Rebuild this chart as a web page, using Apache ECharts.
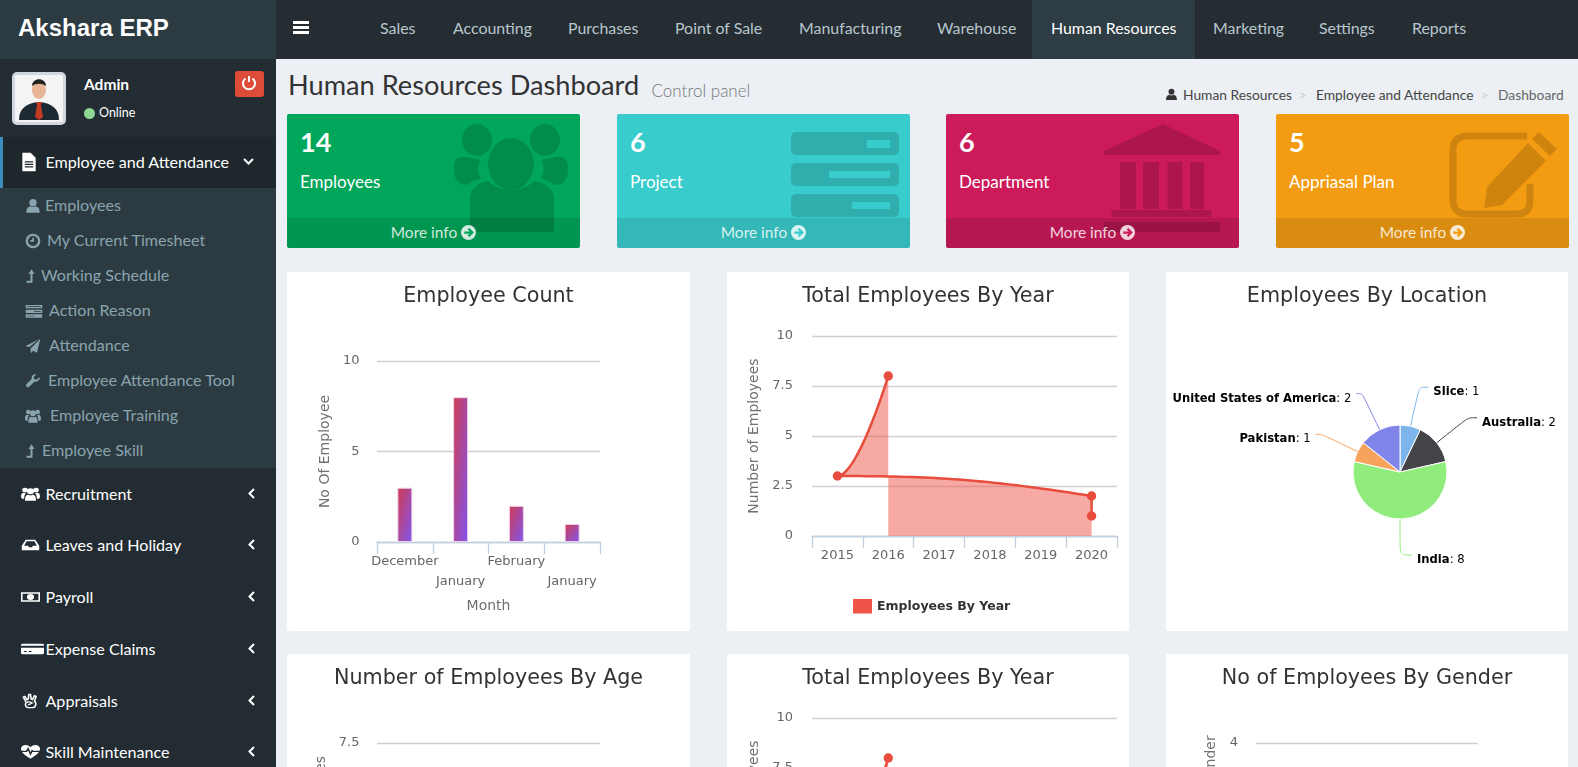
<!DOCTYPE html>
<html>
<head>
<meta charset="utf-8">
<title>Human Resources Dashboard</title>
<script src="https://cdn.jsdelivr.net/npm/echarts@6/dist/echarts.min.js"></script>
<style>
  html, body { margin: 0; padding: 0; width: 1578px; height: 767px; overflow: hidden; background: #ecf0f5; font-family: Lato, "Noto Sans", sans-serif; }
  .abs, .abs * { box-sizing: border-box; }
  .abs { position: absolute; white-space: nowrap; }
  .vc { transform: translateY(-50%); line-height: 1; }
  #side { position: absolute; left: 0; top: 0; width: 276px; height: 767px; background: #222c32; }
  #top { position: absolute; left: 276px; top: 0; right: 0; height: 59px; background: #252d33; }
  .panel { position: absolute; background: #fff; border-radius: 2px; width: 403px; height: 359px; }
  .panel .chart { width: 100%; height: 100%; }
  .card { position: absolute; top: 114px; height: 134px; width: 293px; border-radius: 2px; color: #fff; overflow: hidden; }
  .card .foot { position: absolute; left: 0; right: 0; bottom: 0; height: 30px; background: rgba(0,0,0,.1); color: rgba(255,255,255,.82); text-align: center; font-size: 15.5px; line-height: 28px; }
  .card .num { position: absolute; left: 13px; top: 13px; font-size: 27px; font-weight: 700; line-height: 30px; }
  .card .lab { position: absolute; left: 13px; top: 58px; font-size: 17px; line-height: 20px; }
  .card svg.big { position: absolute; }
</style>
</head>
<body>
<div id="side"></div>
<div id="top"></div>
<div id="content"></div>
<div id="cards"></div>
<div class="panel" style="left:287px;top:272px"><div class="chart" id="chartCount"></div></div>
<div class="panel" style="left:727px;top:272px;width:402px"><div class="chart" id="chartYear"></div></div>
<div class="panel" style="left:1166px;top:272px;width:402px"><div class="chart" id="chartLocation"></div></div>
<div class="panel" style="left:287px;top:654px"><div class="chart" id="chartAge"></div></div>
<div class="panel" style="left:727px;top:654px;width:402px"><div class="chart" id="chartYear2"></div></div>
<div class="panel" style="left:1166px;top:654px;width:402px"><div class="chart" id="chartGender"></div></div>

<script>
// chart values
const countMonths = ["December", "January", "February", "January"];
const countValues = [3, 8, 2, 1];
const yearLabels = ["2015", "2016", "2017", "2018", "2019", "2020"];
const yearPointX = ["2016", "2015", "2020", "2020"];
const yearPointY = [8, 3, 2, 1];
const locationNames = ["Slice", "Australia", "India", "Pakistan", "United States of America"];
const locationValues = [1, 2, 8, 1, 2];
const locationColors = ["#7cb5ec", "#434348", "#90ed7d", "#f7a35c", "#8085e9"];
const locationLineLengths = [40, 40, 36, 40, 40];
const locationLineTails = [9, 9, 12, 6, 6];

// page text
const navLabels = ["Sales", "Accounting", "Purchases", "Point of Sale", "Manufacturing", "Warehouse", "Human Resources", "Marketing", "Settings", "Reports"];
const navLefts = [380, 453, 568, 675, 799, 937, 1051, 1213, 1319, 1412];
const subLabels = ["Employees", "My Current Timesheet", "Working Schedule", "Action Reason", "Attendance", "Employee Attendance Tool", "Employee Training", "Employee Skill"];
const subIcons = ["user", "clock", "up", "list", "plane", "wrench", "group", "up"];
const subLefts = [45, 47, 41, 49, 49, 48, 50, 42];
const mainLabels = ["Recruitment", "Leaves and Holiday", "Payroll", "Expense Claims", "Appraisals", "Skill Maintenance"];
const mainIcons = ["group", "inbox", "money", "card", "hand", "heart"];
const mainTops = [494, 545, 597, 649, 701, 752];

const icons = {
  user: '<circle cx="12" cy="7" r="5.5"/><path d="M2 22c0-7 3-9 6-9.500 2.500 1.500 5.500 1.500 8 0 3 .5 6 2.500 6 9.500z"/>',
  clock: '<path fill-rule="evenodd" d="M12 1a11 11 0 1 0 0 22a11 11 0 0 0 0-22zm0 3.500a7.500 7.500 0 1 1 0 15a7.500 7.500 0 0 1 0-15zM11 7h2.500v6H8v-2.400h3z"/>',
  up: '<path d="M13 2l6 7h-4v13H3v-3h8V9H7z"/>',
  list: '<path d="M1 3h22v5H1zM1 10h22v5H1zM1 17h22v5H1z"/><path fill="#2c3b41" d="M3 5h18v1H3zM12 12h9v1h-9zM3 19h9v1H3z"/>',
  plane: '<path d="M23 1L18 22l-6-3-3 4-1-7L23 1zM1 12l20-10L6 14z"/>',
  wrench: '<path d="M22 6l-5 4-3-1-1-3 4-4c-4-1-8 2-7 7L2 17c-2 2 2 6 4 4l8-8c5 1 9-3 8-7z"/>',
  group: '<circle cx="5" cy="6" r="3.500"/><circle cx="19" cy="6" r="3.500"/><circle cx="12" cy="8" r="4.500"/><path d="M0 16c0-4 1-6 4-6l2 1c-1 2-2 3-2 8H1zM24 16c0-4-1-6-4-6l-2 1c1 2 2 3 2 8h3zM5 22c0-7 2-9 4-9 2 1 4 1 6 0 2 0 4 2 4 9z"/>',
  inbox: '<path fill-rule="evenodd" d="M6 4h12l5 9v7H1v-7zm1 2.500L4 13h5l1 2.500h4l1-2.500h5l-3-6.500z"/>',
  money: '<path fill-rule="evenodd" d="M0 5h24v14H0zM2 7v10h20V7zM12 7.500a4.500 4.500 0 1 0 0 9a4.500 4.500 0 0 0 0-9z"/>',
  card: '<path fill-rule="evenodd" d="M2 4h20a2 2 0 0 1 2 2v1H0V6a2 2 0 0 1 2-2zM0 10h24v8a2 2 0 0 1-2 2H2a2 2 0 0 1-2-2zM3 15v1.500h3V15zM8 15v1.500h3V15z"/>',
  hand: '<path fill="none" stroke="currentColor" stroke-width="2" d="M6 13L3 6l2-1 3 6M9 10L10 2h2l1 8M14 11l3-7 2 1-2 8c3 0 2 9-2 9H9c-3 0-4-4-3-7 2-2 5-2 8 0l-5 3"/>',
  heart: '<path d="M12 22C4 16 0 12 0 7c0-6 8-8 12-2 4-6 12-4 12 2 0 5-4 9-12 15z"/><path fill="none" stroke="#222c32" stroke-width="2" d="M0 11h7l2-4 3 8 2-5 1 1h9"/>',
  doc: '<path fill-rule="evenodd" d="M4 1h10l6 6v16H4zM7 11v1.500h10V11zM7 14v1.500h10V14zM7 17v1.500h10V17z"/>'
};

function svgIcon(name, x, y, w, h, color) {
  return `<svg class="abs" style="left:${x}px;top:${y}px;color:${color}" width="${w}" height="${h}" viewBox="0 0 24 24" preserveAspectRatio="none" fill="${color}">${icons[name]}</svg>`;
}
function textAt(s, x, y, style) {
  return `<div class="abs vc" style="left:${x}px;top:${y}px;${style}">${s}</div>`;
}
function chevron(x, y, down) {
  const d = down ? "M1 1l4.500 4.500L10 1" : "M6 1L1.500 5.500 6 10";
  const size = down ? "width:11px;height:7px" : "width:8px;height:11px";
  return `<svg class="abs" style="left:${x}px;top:${y}px;${size}" fill="none" stroke="#fff" stroke-width="2">
    <path d="${d}"/></svg>`;
}

// sidebar
let sideHtml = `<div class="abs" style="left:0;top:0;width:276px;height:59px;background:#2c3a42"></div>`;
sideHtml += textAt("Akshara ERP", 18, 28, "font:700 24px 'Liberation Sans';color:#fff");
sideHtml += `<div class="abs" style="left:12px;top:72px;width:54px;height:53px;border:3px solid #d2d6de;border-radius:5px;background:#fff;overflow:hidden">
<svg width="48" height="47" viewBox="0 0 48 47"><rect width="48" height="47" fill="#f4f4f4"/><ellipse cx="24" cy="15" rx="7" ry="9" fill="#e8b596"/><path d="M17 11c0-9 14-9 14 0-4-3-10-3-14 0z" fill="#222"/><path d="M4 45c0-12 8-17 20-18 12 1 20 6 20 18z" fill="#1e2a33"/><path d="M21 27h6l-1 3 2 12-4 3-4-3 2-12z" fill="#c23b22"/></svg></div>`;
sideHtml += textAt("Admin", 84, 85, "font-weight:700;font-size:15.500px;color:#fff");
sideHtml += `<div class="abs" style="left:84px;top:107.500px;width:11px;height:11px;border-radius:50%;background:#8fd694"></div>`;
sideHtml += textAt("Online", 99, 113, "font-size:12.500px;color:#fff");
sideHtml += `<div class="abs" style="left:235px;top:71px;width:29px;height:26px;border-radius:3px;background:#dd4b39"></div>
<svg class="abs" style="left:241px;top:75px" width="16" height="16" fill="none" stroke="#fff" stroke-width="2"><path d="M4.500 3.500a6 6 0 1 0 7 0M8 1v6"/></svg>`;
sideHtml += `<div class="abs" style="left:0;top:137px;width:276px;height:51px;background:#1e282c;border-left:3px solid #3c8dbc"></div>`;
sideHtml += `<div class="abs" style="left:0;top:188px;width:276px;height:280px;background:#2c3b41"></div>`;
sideHtml += svgIcon("doc", 19, 152, 20, 20, "#fff");
sideHtml += textAt("Employee and Attendance", 45.5, 162, "font-size:16.100px;color:#fff");
sideHtml += chevron(243, 158, true);
subLabels.forEach((label, i) => {
  const y = 204.5 + i * 35;
  sideHtml += svgIcon(subIcons[i], 25, y - 7, subIcons[i] === "up" ? 12 : (subIcons[i] === "list" ? 18 : 16), 16, "#8aa4af");
  sideHtml += textAt(label, subLefts[i], y, "font-size:16.100px;color:#8aa4af");
});
mainLabels.forEach((label, i) => {
  const y = mainTops[i];
  sideHtml += svgIcon(mainIcons[i], 21, y - 8, mainIcons[i] === "card" ? 23 : 19, 16, "#fff");
  sideHtml += textAt(label, 45.5, y, "font-size:16.100px;color:#fff");
  sideHtml += chevron(248, y - 6, false);
});
document.getElementById("side").innerHTML = sideHtml;

// top bar
let topHtml = `<div class="abs" style="left:1032px;top:0;width:163px;height:59px;background:#2e3c43"></div>`;
topHtml += `<div class="abs" style="left:293px;top:21px;width:16px;height:3px;background:#fff"></div>
<div class="abs" style="left:293px;top:26px;width:16px;height:3px;background:#fff"></div>
<div class="abs" style="left:293px;top:31px;width:16px;height:3px;background:#fff"></div>`;
navLabels.forEach((label, i) => {
  topHtml += textAt(label, navLefts[i], 28, `font-size:15.900px;color:${label === "Human Resources" ? "#fff" : "#b8c7ce"}`);
});
document.getElementById("content").innerHTML = topHtml + [
  textAt("Human Resources Dashboard", 288, 85, "font-size:27.200px;color:#333"),
  textAt("Control panel", 651.5, 90, "font-size:17px;font-weight:300;color:#777"),
  svgIcon("user", 1165, 88, 13, 13, "#333"),
  textAt("Human Resources", 1183, 95, "font-size:13.800px;color:#444"),
  textAt("&gt;", 1299, 95, "font-size:13px;color:#ccc"),
  textAt("Employee and Attendance", 1316, 95, "font-size:13.800px;color:#444"),
  textAt("&gt;", 1481, 95, "font-size:13px;color:#ccc"),
  textAt("Dashboard", 1498, 95, "font-size:13.800px;color:#666")
].join("");

// info boxes
const cardNums = [14, 6, 6, 5];
const cardLabels = ["Employees", "Project", "Department", "Appriasal Plan"];
const cardColors = ["#00a65a", "#39cccc", "#cc1a5a", "#f39c12"];
const cardLefts = [287, 617, 946, 1276];
const cardIcons = [
  `<svg class="big" style="left:167px;top:9px" width="114" height="109" fill-opacity=".15">
    <ellipse cx="23" cy="17" rx="15" ry="16"/><ellipse cx="91" cy="17" rx="15" ry="16"/><ellipse cx="57" cy="41" rx="23" ry="26"/>
    <path d="M16 109V75c0-10 10-16 18-17 12 12 34 12 46 0 8 1 20 7 20 17v34z"/>
    <path d="M10 34c6 0 12 2 17 3-4 5-3 13 0 19-6 1-10 3-14 6C4 62 0 56 0 46s3-12 10-12zM104 34c-6 0-12 2-17 3 4 5 3 13 0 19 6 1 10 3 14 6 9 0 13-6 13-16s-3-12-10-12z"/></svg>`,
  `<svg class="big" style="left:174px;top:18px" width="108" height="86">
    <g fill="#000" fill-opacity=".15"><rect width="108" height="23" rx="5"/><rect y="31" width="108" height="23" rx="5"/><rect y="62" width="108" height="23" rx="5"/></g>
    <g fill="#39cccc"><rect x="76" y="8" width="23" height="8"/><rect x="38" y="39" width="61" height="7"/><rect x="61" y="70" width="38" height="7"/></g></svg>`,
  `<svg class="big" style="left:158px;top:10px" width="116" height="108" fill-opacity=".15">
    <path d="M59 0l57 27v4H0v-4z"/><path d="M16 38h16v47H16zM39 38h16v47H39zM63.500 38h15v47h-15zM86 38h14v47H86zM7.500 86h100v7h-100zM0 98h116v10H0z"/></svg>`,
  `<svg class="big" style="left:173px;top:18px" width="108" height="86">
    <path fill="none" stroke="#000" stroke-opacity=".15" stroke-width="7" d="M78 4H18C9 4 4 9 4 18v50c0 9 5 14 14 14h50c9 0 13-5 13-14V52"/>
    <path fill-opacity=".15" d="M90 0l18 17-7 7-18-17zM79 11l18 18-44 44-18 3 3-21z"/></svg>`
];
function moreArrow(color) {
  return `<svg width="15" height="15" viewBox="0 0 16 16" style="vertical-align:-2px"><circle cx="8" cy="8" r="8" fill="currentColor"/><path d="M3.500 8h8M8 4l4 4-4 4" fill="none" stroke-width="2.400" stroke="${color}"/></svg>`;
}
document.getElementById("cards").innerHTML = cardNums.map((n, i) =>
  `<div class="card" style="left:${cardLefts[i]}px;background:${cardColors[i]}">${cardIcons[i]}
    <div class="num">${n}</div><div class="lab">${cardLabels[i]}</div>
    <div class="foot">More info ${moreArrow(cardColors[i])}</div></div>`).join("");

// charts
const chartFont = "DejaVu Sans";
const axisBlue = "#c0d0e0";

function chartTitle(text) {
  return { text, left: "center", top: 9, textStyle: { fontFamily: chartFont, fontSize: 20.7, fontWeight: "normal", color: "#333" } };
}
function valueAxis(name, max, interval, nameGap, margin) {
  return {
    type: "value", min: 0, max, interval, name, nameLocation: "middle", nameGap,
    nameTextStyle: { fontFamily: chartFont, fontSize: 14, color: "#707070" },
    axisLine: { show: false }, axisTick: { show: false },
    axisLabel: { fontFamily: chartFont, fontSize: 13, color: "#666", margin },
    splitLine: { lineStyle: { color: "#d0d0d0", width: 1.3 } }
  };
}
function categoryAxis(data, extra) {
  return Object.assign({
    type: "category", data,
    axisLine: { show: true, lineStyle: { color: axisBlue, width: 1.3 } },
    axisTick: { show: true, interval: 0, length: 12, lineStyle: { color: axisBlue, width: 1.3 } },
    axisLabel: { fontFamily: chartFont, fontSize: 13, color: "#666", interval: 0 }
  }, extra);
}

// same corner to corner blend as a bounding box gradient, whatever the bar's proportions
function barGradient(value) {
  const ratio = 15 / (value / 10 * 181);
  return {
    type: "linear", x: 0, y: 0, x2: 2 / (1 + ratio * ratio), y2: 2 / (1 + 1 / (ratio * ratio)),
    colorStops: [{ offset: 0, color: "#d03c50" }, { offset: 1, color: "#8055f0" }]
  };
}

// the year series is not sorted on x, so its spline is built here from the axis scales
function splinePath(pts) {
  const smoothing = 1.5, denom = 2.5;
  const right = [];
  const out = [pts[0]];
  pts.forEach((p, i) => {
    if (i === 0) return;
    const last = pts[i - 1], next = pts[i + 1];
    let leftX = p[0], leftY = p[1];
    if (next) {
      leftX = (smoothing * p[0] + last[0]) / denom;
      leftY = (smoothing * p[1] + last[1]) / denom;
      const rightX = (smoothing * p[0] + next[0]) / denom;
      let rightY = (smoothing * p[1] + next[1]) / denom;
      if (rightX !== leftX) {
        const correction = ((rightY - leftY) * (rightX - p[0])) / (rightX - leftX) + p[1] - rightY;
        leftY += correction;
        rightY += correction;
      }
      if (leftY > last[1] && leftY > p[1]) { leftY = Math.max(last[1], p[1]); rightY = 2 * p[1] - leftY; }
      else if (leftY < last[1] && leftY < p[1]) { leftY = Math.min(last[1], p[1]); rightY = 2 * p[1] - leftY; }
      if (rightY > next[1] && rightY > p[1]) { rightY = Math.max(next[1], p[1]); leftY = 2 * p[1] - rightY; }
      else if (rightY < next[1] && rightY < p[1]) { rightY = Math.min(next[1], p[1]); leftY = 2 * p[1] - rightY; }
      right[i] = [rightX, rightY];
    }
    const c1 = right[i - 1] || last;
    for (let s = 1; s <= 40; s++) {
      const t = s / 40, u = 1 - t;
      out.push([
        u * u * u * last[0] + 3 * u * u * t * c1[0] + 3 * u * t * t * leftX + t * t * t * p[0],
        u * u * u * last[1] + 3 * u * u * t * c1[1] + 3 * u * t * t * leftY + t * t * t * p[1]
      ]);
    }
  });
  return out;
}

function renderYearSeries(params, api) {
  if (params.dataIndex !== 0) return null;
  const pts = yearPointX.map((x, i) => api.coord([yearLabels.indexOf(x), yearPointY[i]]));
  const curve = splinePath(pts);
  const floor = yearPointX.map((x) => api.coord([yearLabels.indexOf(x), 0]));
  const area = curve.concat([floor[floor.length - 1], floor[0]]);
  return {
    type: "group",
    children: [
      { type: "polygon", shape: { points: area }, style: { fill: "#ee5548", opacity: 0.5 } },
      { type: "polyline", shape: { points: curve }, style: { fill: null, stroke: "#e74c3c", lineWidth: 2.5 } }
    ].concat(pts.map((p) => ({
      type: "circle", shape: { cx: p[0], cy: p[1], r: 4.7 }, style: { fill: "#e74c3c" }
    })))
  };
}

function yearOption() {
  return {
    animation: false,
    title: chartTitle("Total Employees By Year"),
    legend: {
      left: 121, top: 322, icon: "rect", itemWidth: 19, itemHeight: 14.5,
      data: ["Employees By Year"],
      textStyle: { fontFamily: chartFont, fontSize: 12.5, fontWeight: "bold", color: "#333" }
    },
    grid: { left: 85, top: 64, width: 305, height: 200 },
    xAxis: categoryAxis(yearLabels, { axisLabel: { fontFamily: chartFont, fontSize: 13, color: "#666", interval: 0, margin: 13 } }),
    yAxis: valueAxis("Number of Employees", 10, 2.5, 48, 19),
    series: [{
      name: "Employees By Year", type: "custom", renderItem: renderYearSeries,
      itemStyle: { color: "#ee5548" },
      encode: { x: 0, y: 1 },
      data: yearPointX.map((x, i) => [yearLabels.indexOf(x), yearPointY[i]])
    }]
  };
}

echarts.init(document.getElementById("chartCount")).setOption({
  animation: false,
  title: chartTitle("Employee Count"),
  grid: { left: 90, top: 89, width: 223, height: 181 },
  xAxis: categoryAxis(countMonths, {
    name: "Month", nameLocation: "middle", nameGap: 57,
    nameTextStyle: { fontFamily: chartFont, fontSize: 14, color: "#707070" },
    axisLabel: {
      fontFamily: chartFont, fontSize: 13, color: "#666", interval: 0, margin: 10, lineHeight: 20,
      formatter: (v, i) => (i % 2 ? "\n" + v : v)
    }
  }),
  yAxis: valueAxis("No Of Employee", 10, 5, 45, 17.5),
  series: [{
    type: "bar", barWidth: 15,
    data: countValues.map((value) => ({ value, itemStyle: { color: barGradient(value) } })),
    itemStyle: { borderColor: "#f0d4ea", borderWidth: 1 }
  }]
});

echarts.init(document.getElementById("chartYear")).setOption(yearOption());
echarts.init(document.getElementById("chartYear2")).setOption(yearOption());

echarts.init(document.getElementById("chartLocation")).setOption({
  animation: false,
  title: chartTitle("Employees By Location"),
  color: locationColors,
  series: [{
    type: "pie", center: [234, 200], radius: 47, startAngle: 90, clockwise: true,
    avoidLabelOverlap: false, minShowLabelAngle: 0,
    data: locationNames.map((name, i) => ({
      name, value: locationValues[i],
      labelLine: { length: locationLineLengths[i], length2: locationLineTails[i] }
    })),
    itemStyle: { borderColor: "#fff", borderWidth: 1 },
    label: {
      position: "outside",
      padding: [10, 0, 0, 0],
      formatter: "{n|{b}}{v|: {c}}",
      rich: {
        n: { fontFamily: chartFont, fontSize: 11.6, fontWeight: "bold", color: "#000" },
        v: { fontFamily: chartFont, fontSize: 11.6, color: "#000" }
      }
    },
    labelLine: { smooth: 0.3, lineStyle: { width: 1 } }
  }]
});

echarts.init(document.getElementById("chartAge")).setOption({
  animation: false,
  title: chartTitle("Number of Employees By Age"),
  grid: { left: 90, top: 89, width: 223, height: 181 },
  xAxis: categoryAxis([], {}),
  yAxis: valueAxis("Number of Employees", 7.5, 2.5, 48, 17.5),
  series: [{ type: "bar", data: [] }]
});

echarts.init(document.getElementById("chartGender")).setOption({
  animation: false,
  title: chartTitle("No of Employees By Gender"),
  grid: { left: 90, top: 89, width: 222, height: 181 },
  xAxis: categoryAxis([], {}),
  yAxis: valueAxis("No of Employees By Gender", 4, 1, 35, 18),
  series: [{ type: "bar", data: [] }]
});
</script>
</body>
</html>
